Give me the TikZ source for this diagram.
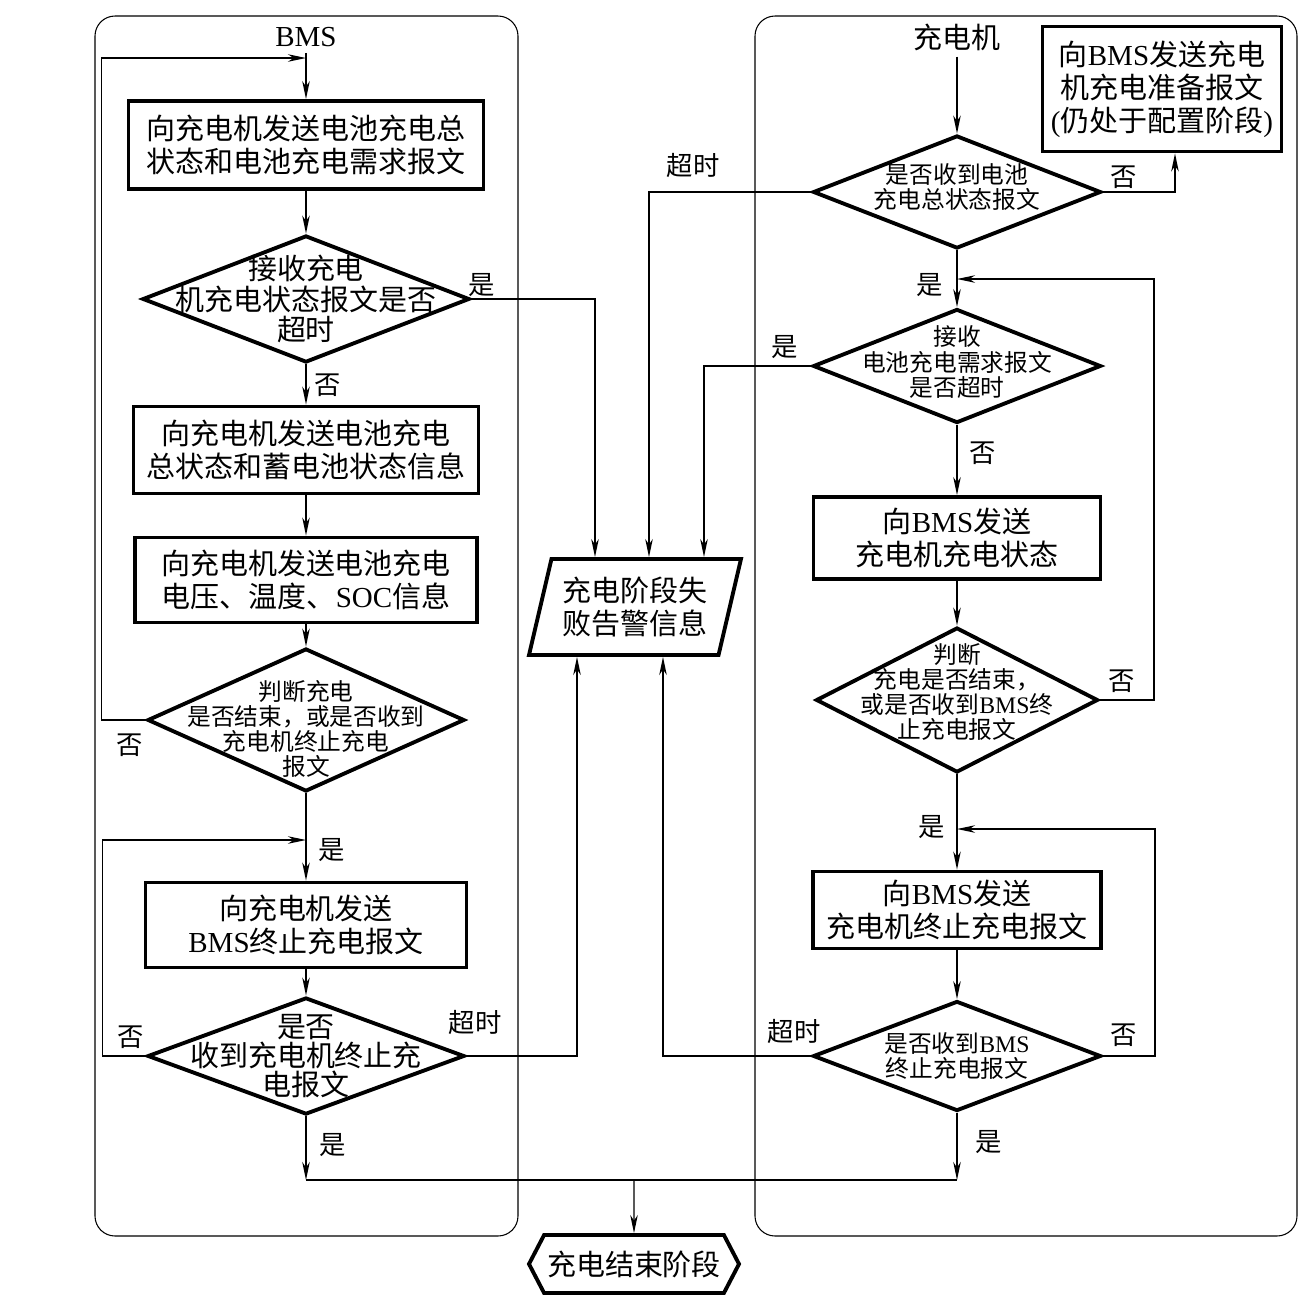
\documentclass[tikz,border=0pt]{standalone}
\usepackage{fontspec}
\setmainfont{Noto Sans CJK SC}
\newfontfamily\latinf{Liberation Serif}
\newcommand\lat[1]{{\latinf #1}}
\usetikzlibrary{positioning,shapes.geometric,shapes.symbols,arrows.meta}

\begin{document}
\begin{tikzpicture}[x=0.2mm,y=-0.2mm,
    bigtxt/.style={font=\fontsize{16.5}{18.7}\selectfont, align=center},
    smalltxt/.style={font=\fontsize{13.5}{14.3}\selectfont, align=center},
    lbl/.style={font=\fontsize{15}{17}\selectfont},
    box/.style 2 args={draw=black, line width=2.2pt, minimum width=#1mm, minimum height=#2mm, inner sep=2pt, bigtxt},
    dec/.style 2 args={diamond, draw=black, line width=2.2pt, minimum width=#1mm, minimum height=#2mm, inner sep=0pt},
    frame/.style={draw=black, line width=0.6pt, rounded corners=4mm},
    arr/.style={-{Stealth[length=3.6mm,width=1.5mm,inset=1.1mm]}, line width=0.8pt},
    ln/.style={line width=0.8pt}]

    \useasboundingbox (0,0) rectangle (1300,1297);

    % Rahmen
    \draw[frame] (95,16) rectangle (518,1236);
    \draw[frame] (755,16) rectangle (1297,1236);

    % BMS-Seite
    \node[bigtxt] (bmsT) at (306,37) {\lat{BMS}};
    \node[box={71}{17.6}] (bL1) at (306,145) {向充电机发送电池充电总\\状态和电池充电需求报文};
    \node[dec={65.4}{25.4}, label={[bigtxt, font=\fontsize{16.5}{17.5}\selectfont]center:{接收充电\\机充电状态报文是否\\超时}}] (dL1) at (306,299) {};
    \node[box={69}{17.4}] (bL2) at (306,450) {向充电机发送电池充电\\总状态和蓄电池状态信息};
    \node[box={68.4}{17}] (bL3) at (306,580) {向充电机发送电池充电\\电压、温度、\lat{SOC}信息};
    \node[dec={63.4}{28.6}, label={[smalltxt, yshift=-1.8mm]center:{判断充电\\是否结束，或是否收到\\充电机终止充电\\报文}}] (dL2) at (306,720) {};
    \node[box={64.2}{17}] (bL4) at (306,925) {向充电机发送\\\lat{BMS}终止充电报文};
    \node[dec={63.4}{23.4}, label={[bigtxt, font=\fontsize{16.5}{16.5}\selectfont]center:{是否\\收到充电机终止充\\电报文}}] (dL3) at (306,1056) {};

    % Mitte
    \node[trapezium, trapezium left angle=72, trapezium right angle=108, trapezium stretches=true,
          draw=black, line width=2.2pt, minimum width=42.4mm, minimum height=19.2mm, inner sep=0pt, bigtxt] (para) at (635,607) {充电阶段失\\败告警信息};
    \node[signal, signal to=west and east, signal pointer angle=125, draw=black, line width=2.2pt,
          minimum width=42mm, minimum height=11.6mm, inner sep=1pt, bigtxt] (endN) at (634,1264) {充电结束阶段};

    % Ladegeraet-Seite
    \node[bigtxt] (chgT) at (957,37) {充电机};
    \node[box={47.8}{25}] (bR0) at (1162,89) {向\lat{BMS}发送充电\\机充电准备报文\\\lat{(}仍处于配置阶段\lat{)}};
    \node[dec={57.6}{22.6}, label={[smalltxt, yshift=1mm]center:{是否收到电池\\充电总状态报文}}] (dR1) at (957,192) {};
    \node[dec={57.6}{22.8}, label={[smalltxt, yshift=0.8mm]center:{接收\\电池充电需求报文\\是否超时}}] (dR2) at (957,366) {};
    \node[box={57.4}{16.4}] (bR3) at (957,538) {向\lat{BMS}发送\\充电机充电状态};
    \node[dec={56.4}{29}, label={[smalltxt, yshift=1.6mm]center:{判断\\充电是否结束，\\或是否收到\lat{BMS}终\\止充电报文}}] (dR4) at (957,700) {};
    \node[box={57.6}{15.4}] (bR5) at (957,910) {向\lat{BMS}发送\\充电机终止充电报文};
    \node[dec={57.6}{22}, label={[smalltxt]center:{是否收到\lat{BMS}\\终止充电报文}}] (dR6) at (957,1056) {};

    % Beschriftungen
    \node[lbl] (yL1) at (482,285) {是};
    \node[lbl] (nL1) at (328,385) {否};
    \node[lbl] (nL2) at (130,745) {否};
    \node[lbl] (yL2) at (332,850) {是};
    \node[lbl] (nL3) at (131,1037) {否};
    \node[lbl] (tL3) at (475,1022) {超时};
    \node[lbl] (yL3) at (333,1145) {是};
    \node[lbl] (tR1) at (693,165) {超时};
    \node[lbl] (nR1) at (1124,177) {否};
    \node[lbl] (yR1) at (930,285) {是};
    \node[lbl] (yR2) at (785,347) {是};
    \node[lbl] (nR2) at (983,453) {否};
    \node[lbl] (nR4) at (1122,681) {否};
    \node[lbl] (yR4) at (932,827) {是};
    \node[lbl] (tR6) at (794,1031) {超时};
    \node[lbl] (nR6) at (1124,1035) {否};
    \node[lbl] (yR6) at (989,1142) {是};

    % Hilfspunkte
    \coordinate (lTop) at (306,58);
    \coordinate (lMid) at (306,840);
    \coordinate (rTop) at (957,279);
    \coordinate (rMid) at (957,829);
    \coordinate (jL) at (306,1180);
    \coordinate (jR) at (957,1180);
    \coordinate (jM) at (634,1180);
    \coordinate (xa) at (595,0);
    \coordinate (xb) at (649,0);
    \coordinate (xc) at (704,0);
    \coordinate (xd) at (577,0);
    \coordinate (xe) at (663,0);
    \coordinate (xf) at (1175,0);

    % Verbindungen links
    \draw[arr] (bmsT) -- (bL1);
    \draw[arr] (bL1) -- (dL1);
    \draw[arr] (dL1) -- (bL2);
    \draw[arr] (bL2) -- (bL3);
    \draw[arr] (bL3) -- (dL2);
    \draw[arr] (dL2) -- (bL4);
    \draw[arr] (bL4) -- (dL3);
    \draw[arr] (dL3) -- (jL);
    \draw[arr] (dL2.west) -- ++(-44,0) |- (lTop);
    \draw[arr] (dL3.west) -- ++(-43,0) |- (lMid);
    \draw[arr] (dL1.east) -| (xa |- para.north);
    \draw[arr] (dL3.east) -| (xd |- para.south);

    % Verbindungen rechts
    \draw[arr] (chgT) -- (dR1);
    \draw[arr] (dR1) -- (dR2);
    \draw[arr] (dR2) -- (bR3);
    \draw[arr] (bR3) -- (dR4);
    \draw[arr] (dR4) -- (bR5);
    \draw[arr] (bR5) -- (dR6);
    \draw[arr] (dR6) -- (jR);
    \draw[arr] (dR1.east) -| (xf |- bR0.south);
    \draw[arr] (dR1.west) -| (xb |- para.north);
    \draw[arr] (dR2.west) -| (xc |- para.north);
    \draw[arr] (dR4.east) -- ++(54,0) |- (rTop);
    \draw[arr] (dR6.east) -- ++(52,0) |- (rMid);
    \draw[arr] (dR6.west) -| (xe |- para.south);

    % Zusammenfuehrung
    \draw[ln] (jL) -- (jR);
    \draw[arr] (jM) -- (endN);

\end{tikzpicture}
\end{document}
